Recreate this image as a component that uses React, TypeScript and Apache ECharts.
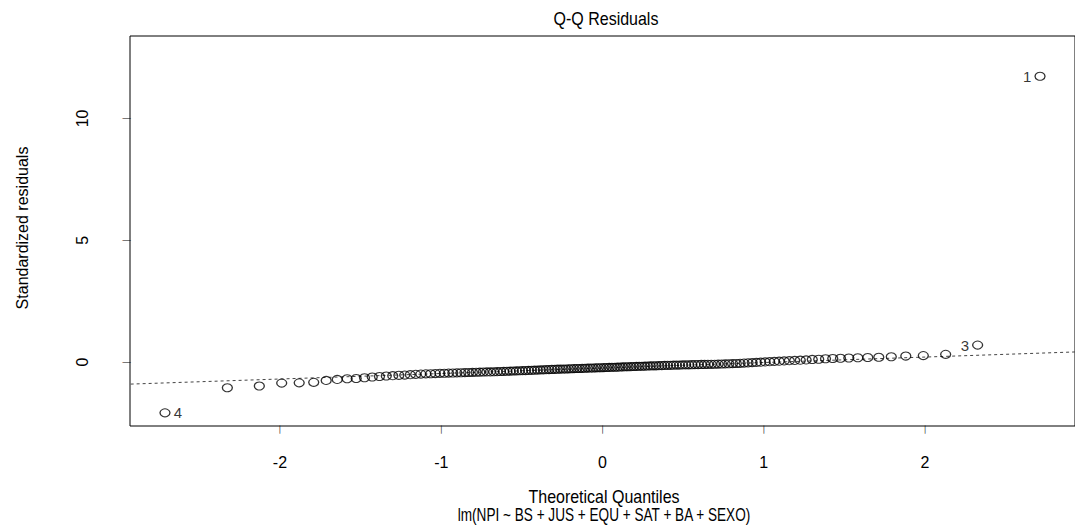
import React, { useEffect, useRef } from "react";
import * as echarts from "echarts";

// Theoretical normal quantiles for n = 150 (ppoints), read as x-positions
const theoreticalQuantiles = [
  -2.7131, -2.3263, -2.128, -1.9893, -1.8808, -1.7908, -1.7133, -1.6449, -1.5834, -1.5274,
  -1.4758, -1.4279, -1.383, -1.3408, -1.3008, -1.2628, -1.2265, -1.1918, -1.1585, -1.1264,
  -1.0954, -1.0655, -1.0364, -1.0083, -0.9808, -0.9542, -0.9282, -0.9027, -0.8779, -0.8536,
  -0.8298, -0.8064, -0.7835, -0.761, -0.7388, -0.7171, -0.6956, -0.6745, -0.6537, -0.6331,
  -0.6128, -0.5928, -0.573, -0.5534, -0.534, -0.5149, -0.4959, -0.477, -0.4584, -0.4399,
  -0.4216, -0.4034, -0.3853, -0.3674, -0.3496, -0.3319, -0.3142, -0.2967, -0.2793, -0.262,
  -0.2447, -0.2275, -0.2104, -0.1934, -0.1764, -0.1594, -0.1426, -0.1257, -0.1088, -0.0921,
  -0.0753, -0.0585, -0.0418, -0.0251, -0.0084,
  0.0084, 0.0251, 0.0418, 0.0585, 0.0753, 0.0921, 0.1088, 0.1257, 0.1426, 0.1594,
  0.1764, 0.1934, 0.2104, 0.2275, 0.2447, 0.262, 0.2793, 0.2967, 0.3142, 0.3319,
  0.3496, 0.3674, 0.3853, 0.4034, 0.4216, 0.4399, 0.4584, 0.477, 0.4959, 0.5149,
  0.534, 0.5534, 0.573, 0.5928, 0.6128, 0.6331, 0.6537, 0.6745, 0.6956, 0.7171,
  0.7388, 0.761, 0.7835, 0.8064, 0.8298, 0.8536, 0.8779, 0.9027, 0.9282, 0.9542,
  0.9808, 1.0083, 1.0364, 1.0655, 1.0954, 1.1264, 1.1585, 1.1918, 1.2265, 1.2628,
  1.3008, 1.3408, 1.383, 1.4279, 1.4758, 1.5274, 1.5834, 1.6449, 1.7133, 1.7908,
  1.8808, 1.9893, 2.128, 2.3263, 2.7131,
];

// Sorted standardized residuals
const standardizedResiduals = [
  -2.08, -1.05, -0.98, -0.86, -0.85, -0.83, -0.75, -0.71, -0.68, -0.67,
  -0.64, -0.61, -0.59, -0.57, -0.555, -0.54, -0.53, -0.515, -0.5, -0.49,
  -0.48, -0.475, -0.47, -0.46, -0.455, -0.45, -0.445, -0.44, -0.435, -0.43,
  -0.425, -0.42, -0.415, -0.41, -0.405, -0.4, -0.4, -0.395, -0.39, -0.385,
  -0.38, -0.375, -0.37, -0.365, -0.36, -0.355, -0.35, -0.345, -0.34, -0.335,
  -0.33, -0.325, -0.32, -0.315, -0.31, -0.305, -0.3, -0.295, -0.29, -0.285,
  -0.28, -0.28, -0.275, -0.27, -0.265, -0.26, -0.26, -0.255, -0.25, -0.245,
  -0.24, -0.24, -0.235, -0.23, -0.23,
  -0.225, -0.22, -0.215, -0.21, -0.21, -0.205, -0.2, -0.195, -0.19, -0.19,
  -0.185, -0.18, -0.175, -0.17, -0.17, -0.165, -0.16, -0.155, -0.15, -0.15,
  -0.145, -0.14, -0.135, -0.13, -0.13, -0.125, -0.12, -0.12, -0.115, -0.11,
  -0.11, -0.105, -0.1, -0.1, -0.095, -0.095, -0.09, -0.09, -0.085, -0.08,
  -0.075, -0.07, -0.065, -0.06, -0.055, -0.05, -0.04, -0.03, -0.02, -0.01,
  0.0, 0.01, 0.02, 0.03, 0.04, 0.05, 0.06, 0.07, 0.08, 0.09,
  0.11, 0.12, 0.14, 0.15, 0.16, 0.17, 0.18, 0.19, 0.2, 0.22,
  0.25, 0.27, 0.32, 0.7, 11.73,
];

// index in sorted order -> observation id shown next to the point
const pointLabelIndex = [0, 148, 149];
const pointLabelText = ["4", "3", "1"];
const pointLabelSide = ["right", "left", "left"];

const xTicks = [-2, -1, 0, 1, 2];
const yTicks = [0, 5, 10];
const xRange = [-2.93, 2.93];
const yRange = [-2.62, 13.38];

const titleText = "Q-Q Residuals";
const xLabelText = "Theoretical Quantiles";
const subCaptionText = "lm(NPI ~ BS + JUS + EQU + SAT + BA + SEXO)";
const yLabelText = "Standardized residuals";

const FONT = '"Liberation Sans", Arial, sans-serif';
const TICK_GLYPH = "\u2502";

function quantile7(sorted: number[], p: number) {
  const h = (sorted.length - 1) * p;
  const lo = Math.floor(h);
  const hi = Math.min(lo + 1, sorted.length - 1);
  return sorted[lo] + (h - lo) * (sorted[hi] - sorted[lo]);
}

export default function App() {
  const ref = useRef<HTMLDivElement>(null);
  useEffect(() => {
    if (!ref.current) return;
    const chart = echarts.init(ref.current, undefined, { renderer: "svg" });

    // qqline through the quartiles (as R's qqline does)
    const sorted = [...standardizedResiduals].sort((a, b) => a - b);
    const y1 = quantile7(sorted, 0.25);
    const y2 = quantile7(sorted, 0.75);
    const x1 = -0.6745;
    const x2 = 0.6745;
    const slope = (y2 - y1) / (x2 - x1);
    const intercept = y1 - slope * x1;
    const lineData = [xRange[0] - 1, xRange[1] + 1].map((x) => [x, intercept + slope * x]);

    const pointData = theoreticalQuantiles.map((x, i) => {
      const k = pointLabelIndex.indexOf(i);
      const item: any = { value: [x, standardizedResiduals[i]] };
      if (k >= 0) {
        item.label = {
          show: true,
          formatter: pointLabelText[k],
          position: pointLabelSide[k],
          distance: 3,
          color: "#000",
          fontSize: 15,
          fontFamily: FONT,
        };
      }
      return item;
    });

    const textStyle = (text: string) => ({
      text,
      fontSize: 16,
      fontFamily: FONT,
      fill: "#000",
      textAlign: "center",
      textVerticalAlign: "middle",
    });

    // tick mark drawn as a thin line glyph attached to each axis label
    const tickGlyph = { color: "#000", fontSize: 7, fontFamily: '"DejaVu Sans"', lineHeight: 7 };

    chart.setOption({
      animation: false,
      backgroundColor: "#fff",
      grid: {
        left: 130,
        top: 36,
        width: 953,
        height: 390,
        show: true,
        borderColor: "#000",
        borderWidth: 1,
        backgroundColor: "transparent",
      },
      xAxis: {
        type: "value",
        min: xRange[0],
        max: xRange[1],
        axisLine: { show: false, onZero: false },
        splitLine: { show: false },
        axisTick: { show: false },
        axisLabel: {
          customValues: xTicks,
          margin: 0,
          formatter: (v: number) => `{t|${TICK_GLYPH}}\n{v|${v}}`,
          rich: {
            t: tickGlyph,
            v: { color: "#000", fontSize: 16, fontFamily: FONT, lineHeight: 58 },
          },
        },
      },
      yAxis: {
        type: "value",
        min: yRange[0],
        max: yRange[1],
        axisLine: { show: false, onZero: false },
        splitLine: { show: false },
        axisTick: { show: false },
        axisLabel: {
          customValues: yTicks,
          rotate: 90,
          margin: 0,
          formatter: (v: number) => `{v|${v}}\n{t|${TICK_GLYPH}}`,
          rich: {
            t: tickGlyph,
            v: { color: "#000", fontSize: 16, fontFamily: FONT, lineHeight: 82 },
          },
        },
      },
      graphic: [
        { type: "text", x: 606, y: 18, scaleY: 1.2, style: textStyle(titleText) },
        { type: "text", x: 604, y: 496, scaleY: 1.2, style: textStyle(xLabelText) },
        { type: "text", x: 604, y: 515, scaleX: 0.85, scaleY: 1.2, style: textStyle(subCaptionText) },
        { type: "text", x: 22, y: 228, rotation: Math.PI / 2, style: textStyle(yLabelText) },
      ],
      series: [
        {
          type: "line",
          data: lineData,
          symbol: "none",
          silent: true,
          clip: true,
          lineStyle: { color: "#444", width: 1, type: [3, 3] },
          z: 1,
        },
        {
          type: "scatter",
          data: pointData,
          symbol: "circle",
          symbolSize: [10, 8],
          itemStyle: { color: "transparent", borderColor: "#000", borderWidth: 1.2 },
          z: 2,
        },
      ],
    });

    return () => chart.dispose();
  }, []);
  return (
    <div
      ref={ref}
      style={{ position: "fixed", left: 0, top: 0, width: 1075, height: 530 }}
    />
  );
}
